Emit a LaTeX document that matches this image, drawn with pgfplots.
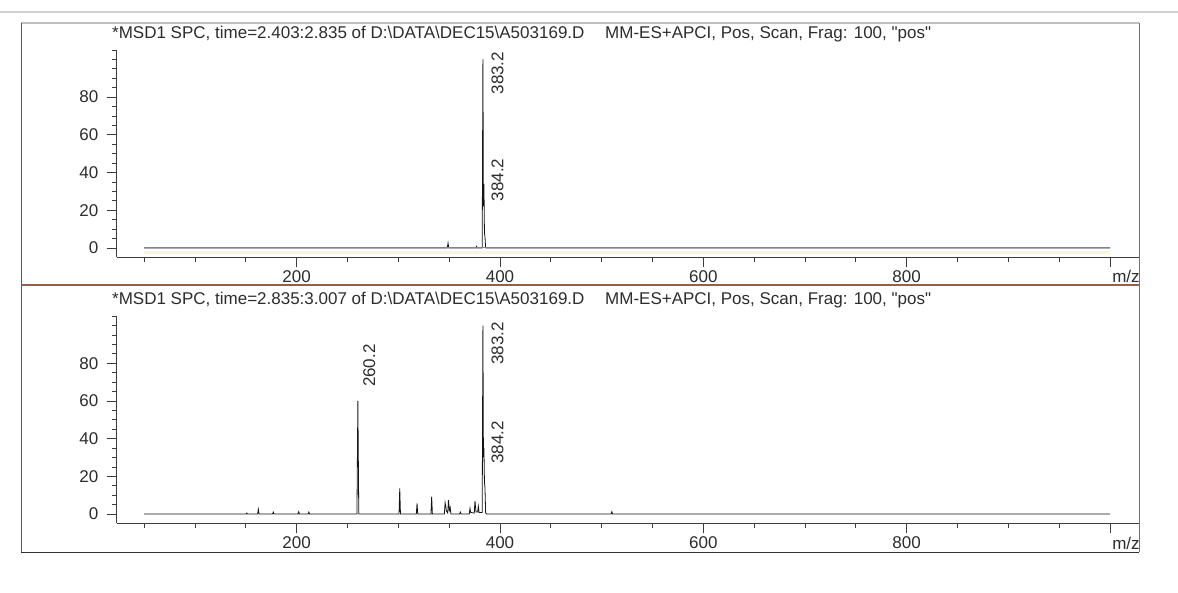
\documentclass[border=0pt]{standalone}
\usepackage{fontspec}
\setmainfont{Liberation Sans}[Ligatures=TeXOff]
\usepackage{pgfplots}
\usepackage{pgfplotstable}
\pgfplotsset{compat=1.18}
\definecolor{trace}{RGB}{20,20,20}
\definecolor{axcol}{RGB}{60,60,60}
\definecolor{txtcol}{RGB}{45,45,45}
\definecolor{basecol}{RGB}{95,150,135}
\definecolor{sepcol}{RGB}{150,95,75}
\definecolor{yel}{RGB}{250,246,205}

\pgfplotstableread{
mz h
50 0
150.4 0
151 0.5
151.6 0
161.6 0
162.3 2.5
163.0 0
176.3 0
177 1.0
177.7 0
201.3 0
202 1.2
202.7 0
211.3 0
212 1.0
212.7 0
259.3 0
260.2 60
261.1 0
300.7 0
301.4 13.6
302.1 0
317.7 0
318.4 5.6
319.1 0
332.1 0
332.8 9.2
333.5 0
345.3 0
346.0 6.0
347.4 1.5
348.6 0.5
349.3 7.4
350.2 2.0
351.0 3.5
351.7 0
360.3 0
361.0 1.0
361.7 0
369.8 0
370.5 3.0
371.2 0.8
374.7 0.5
375.4 6.9
376.4 1.0
378.0 1.0
378.7 4.0
379.4 0.8
382.5 0.8
383.2 100
383.7 30
384.2 35
384.7 17
385.2 14
385.9 0.5
386.6 0
509.3 0
510 1.2
510.7 0
1000 0
}\bottomdata

\pgfplotstableread{
mz h
50 0
348.2 0
348.9 2.5
349.6 0
376.4 0
377.0 0.8
377.6 0
382.5 0
383.2 100
383.7 22
384.2 34
384.7 8
385.2 6
385.9 0
1000 0
}\topdata

\pgfplotstableread{
mz h b
50 0 -2.6
1000 0 -2.6
}\basedata

\pgfplotsset{msd/.style={
  scale only axis, width=1022.3pt, height=207.3pt,
  xmin=23, xmax=1028.5, ymin=-5, ymax=105,
  axis lines*=left,
  xtick={200,400,600,800},
  minor xtick={50,100,...,1000},
  extra x ticks={1000}, extra x tick labels={m/z},
  extra x tick style={xticklabel style={xshift=16pt}},
  ytick={0,20,...,80},
  minor ytick={0,5,...,105},
  tick align=outside,
  major tick length=10pt, minor tick length=5pt,
  tick style={axcol, line width=0.7pt},
  axis line style={axcol, line width=0.9pt},
  tick label style={font=\fontsize{17}{20}\selectfont, text=txtcol},
  xticklabel style={yshift=2.5pt},
  yticklabel style={xshift=-2.5pt},
  /pgf/number format/assume math mode=true,
  clip=false,
}}

\begin{document}
\fontsize{17}{20}\selectfont
\begin{tikzpicture}[x=1pt,y=1pt]
\useasboundingbox (0,0) rectangle (1178,592);
\fill[white] (0,0) rectangle (1178,592);
\draw[black!18, line width=1.6pt] (0,580) -- (1178,580);
% panel frames
\draw[black!25, line width=1.2pt] (21,569) -- (1139,569);
\draw[black!65, line width=0.8pt] (21,569) -- (21,40);
\draw[black!55, line width=0.8pt] (1139,569) -- (1139,40);
\draw[black!80, line width=1pt] (21,40) -- (1139,40);
\draw[sepcol, line width=1.2pt] (21,307) -- (1139,307);

% titles
\node[anchor=base west, inner sep=0pt, text=txtcol] at (112,553) {*MSD1 SPC, time=2.403:2.835 of D:\textbackslash DATA\textbackslash DEC15\textbackslash A503169.D};
\node[anchor=base west, inner sep=0pt, text=txtcol] at (605,553) {MM-ES+APCI, Pos, Scan, Frag: 100, "pos"};
\node[anchor=base west, inner sep=0pt, text=txtcol] at (112,287) {*MSD1 SPC, time=2.835:3.007 of D:\textbackslash DATA\textbackslash DEC15\textbackslash A503169.D};
\node[anchor=base west, inner sep=0pt, text=txtcol] at (605,287) {MM-ES+APCI, Pos, Scan, Frag: 100, "pos"};

% top panel
\begin{axis}[msd, at={(116.7pt,334.7pt)}, anchor=south west]
\addplot[yel, line width=3pt] table[x=mz, y=b] {\basedata};
\addplot[trace, line width=0.8pt] table[x=mz, y=h] {\topdata};
\addplot[basecol, line width=0.9pt] table[x=mz, y=h] {\basedata};
\node[rotate=90, anchor=north, inner sep=0pt, text=txtcol] at (axis cs:391.5,92.7) {383.2};
\node[rotate=90, anchor=north, inner sep=0pt, text=txtcol] at (axis cs:391.5,36) {384.2};
\end{axis}

% bottom panel
\begin{axis}[msd, at={(116.7pt,68.6pt)}, anchor=south west]
\addplot[trace, line width=0.8pt] table[x=mz, y=h] {\bottomdata};
\node[rotate=90, anchor=north, inner sep=0pt, text=txtcol] at (axis cs:265.3,78.7) {260.2};
\node[rotate=90, anchor=north, inner sep=0pt, text=txtcol] at (axis cs:391.5,90.5) {383.2};
\node[rotate=90, anchor=north, inner sep=0pt, text=txtcol] at (axis cs:391.5,38) {384.2};
\end{axis}
\end{tikzpicture}
\end{document}
